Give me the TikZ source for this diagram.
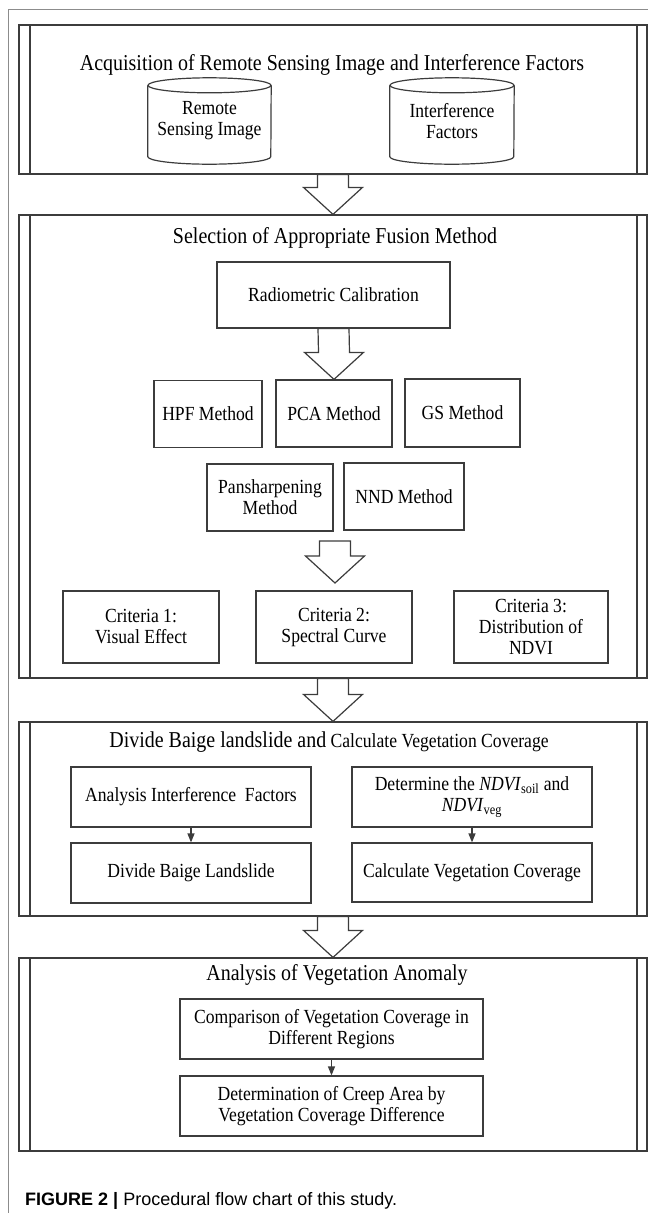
\documentclass[tikz,border=0pt]{standalone}
\usepackage{fontspec}
\setmainfont{Liberation Serif}[FakeStretch=0.88]
\newfontfamily\captionFont{Liberation Sans}
\usepackage{tikz}
\usetikzlibrary{positioning,calc,arrows.meta}
\definecolor{lineColor}{RGB}{60,60,60}
\definecolor{frameColor}{RGB}{140,140,140}
\tikzstyle{chart} = [x = 1pt, y = -1pt]
\tikzstyle{boxText} = [font=\fontsize{20}{21}\selectfont, align=center, inner sep=0pt]
\tikzstyle{titleText} = [font=\fontsize{22.7}{24}\selectfont, inner sep=0pt]
\tikzstyle{processBox} = [draw=lineColor, line width=1.2pt, boxText]
\tikzstyle{stageBox} = [draw=lineColor, line width=1.2pt, minimum width=628pt, inner sep=0pt,
  path picture={
    \draw [lineColor, line width=1.2pt] ([xshift=11pt]path picture bounding box.north west) -- ([xshift=11pt]path picture bounding box.south west);
    \draw [lineColor, line width=1.2pt] ([xshift=-10pt]path picture bounding box.north east) -- ([xshift=-10pt]path picture bounding box.south east);
  }]
\tikzstyle{databaseBox} = [boxText, minimum height=86pt]
\tikzstyle{blockArrowStyle} = [draw=lineColor, line width=1.2pt, fill=white]
\tikzstyle{smallArrow} = [draw=lineColor, line width=1.2pt, -{Triangle[length=9pt, width=7pt]}]
\tikzstyle{outerFrame} = [draw=frameColor, line width=1pt]
\newcommand{\blockArrow}[2]{\filldraw [blockArrowStyle] ($(#1) + (-15.5, 0)$) -- ($(#2) + (-15.5, -27)$) -- ($(#2) + (-29.5, -27)$) -- (#2) -- ($(#2) + (29.5, -27)$) -- ($(#2) + (15.5, -27)$) -- ($(#1) + (15.5, 0)$) -- cycle;}
\newcommand{\databaseOutline}[2]{
  \draw [lineColor, line width=1.2pt] ($(#1.north) + (0, 7.5)$) ellipse [x radius=#2pt, y radius=7.5pt];
  \draw [lineColor, line width=1.2pt] ($(#1.north west) + (0, 7.5)$) -- ($(#1.south west) + (0, -7.5)$) arc [start angle=180, end angle=360, x radius=#2pt, y radius=7.5pt] -- ($(#1.north east) + (0, 7.5)$);
}

\begin{document}
\begin{tikzpicture}[chart]
      \useasboundingbox (0, 0) rectangle (648, 1213);
      \draw [outerFrame] (648, 9) -- (8, 9) -- (8, 1213);

      \node [stageBox, minimum height=149pt] (sec1) at (333, 99.5) {};
      \node [titleText] (t1) at (332, 65) {Acquisition of Remote Sensing Image and Interference Factors};
      \node [databaseBox, minimum width=123pt] (rsi) at (209.5, 121) {Remote\\Sensing Image};
      \node [databaseBox, minimum width=124pt] (inf) at (452, 121) {Interference\\Factors};
      \databaseOutline{rsi}{61.5}
      \databaseOutline{inf}{62}

      \node [stageBox, minimum height=463pt] (sec2) at (333, 446.5) {};
      \node [titleText] (t2) at (335, 238) {Selection of Appropriate Fusion Method};
      \node [processBox, minimum width=233pt, minimum height=66pt] (rad) at (333.5, 295) {Radiometric Calibration};
      \node [processBox, minimum width=108pt, minimum height=67pt] (hpf) at (208, 414) {HPF Method};
      \node [processBox, minimum width=116pt, minimum height=67pt] (pca) at (334, 413.5) {PCA Method};
      \node [processBox, minimum width=115pt, minimum height=68pt] (gs) at (462.5, 413) {GS Method};
      \node [processBox, minimum width=126pt, minimum height=67pt] (pan) at (270, 497.5) {Pansharpening\\Method};
      \node [processBox, minimum width=120pt, minimum height=67pt] (nnd) at (404, 496.5) {NND Method};
      \coordinate (fuseStart) at (335, 541);
      \coordinate (fuseEnd) at (335, 583);
      \node [processBox, minimum width=156pt, minimum height=72pt] (crit1) at (141, 627) {Criteria 1:\\Visual Effect};
      \node [processBox, minimum width=156pt, minimum height=72pt] (crit2) at (334, 627) {Criteria 2:\\Spectral Curve};
      \node [processBox, minimum width=154pt, minimum height=72pt] (crit3) at (531, 627) {Criteria 3:\\Distribution of\\NDVI};
      \blockArrow{rad.south}{pca.north}
      \blockArrow{fuseStart}{fuseEnd}

      \node [stageBox, minimum height=194pt] (sec3) at (333, 819) {};
      \node [boxText] (t3) at (329, 742) {{\fontsize{22.7}{24}\selectfont Divide Baige landslide and} Calculate Vegetation Coverage};
      \node [processBox, minimum width=240pt, minimum height=60pt] (aif) at (191, 797) {Analysis Interference~ Factors};
      \node [processBox, minimum width=240pt, minimum height=60pt] (dbl) at (191, 873) {Divide Baige Landslide};
      \node [processBox, minimum width=240pt, minimum height=60pt] (ndvi) at (472, 797) {Determine the \textit{NDVI}\textsubscript{soil} and\\\textit{NDVI}\textsubscript{veg}};
      \node [processBox, minimum width=240pt, minimum height=59pt] (cvc) at (472, 872.5) {Calculate Vegetation Coverage};
      \draw [smallArrow] (aif) -- (dbl);
      \draw [smallArrow] (ndvi) -- (cvc);

      \node [stageBox, minimum height=193pt] (sec4) at (333, 1054.5) {};
      \node [titleText] (t4) at (337, 975) {Analysis of Vegetation Anomaly};
      \node [processBox, minimum width=303pt, minimum height=60pt] (cmp) at (331.5, 1029) {Comparison of Vegetation Coverage in\\Different Regions};
      \node [processBox, minimum width=303pt, minimum height=60pt] (crp) at (331.5, 1106) {Determination of Creep Area by\\Vegetation Coverage Difference};
      \draw [smallArrow] (cmp) -- (crp);

      \blockArrow{sec1.south}{sec2.north}
      \blockArrow{sec2.south}{sec3.north}
      \blockArrow{sec3.south}{sec4.north}

      \node [anchor=base west, inner sep=0pt, font=\captionFont\fontsize{18}{22}\selectfont] (cap) at (25, 1205) {\textbf{FIGURE 2 |} Procedural flow chart of this study.};
    \end{tikzpicture}
\end{document}
